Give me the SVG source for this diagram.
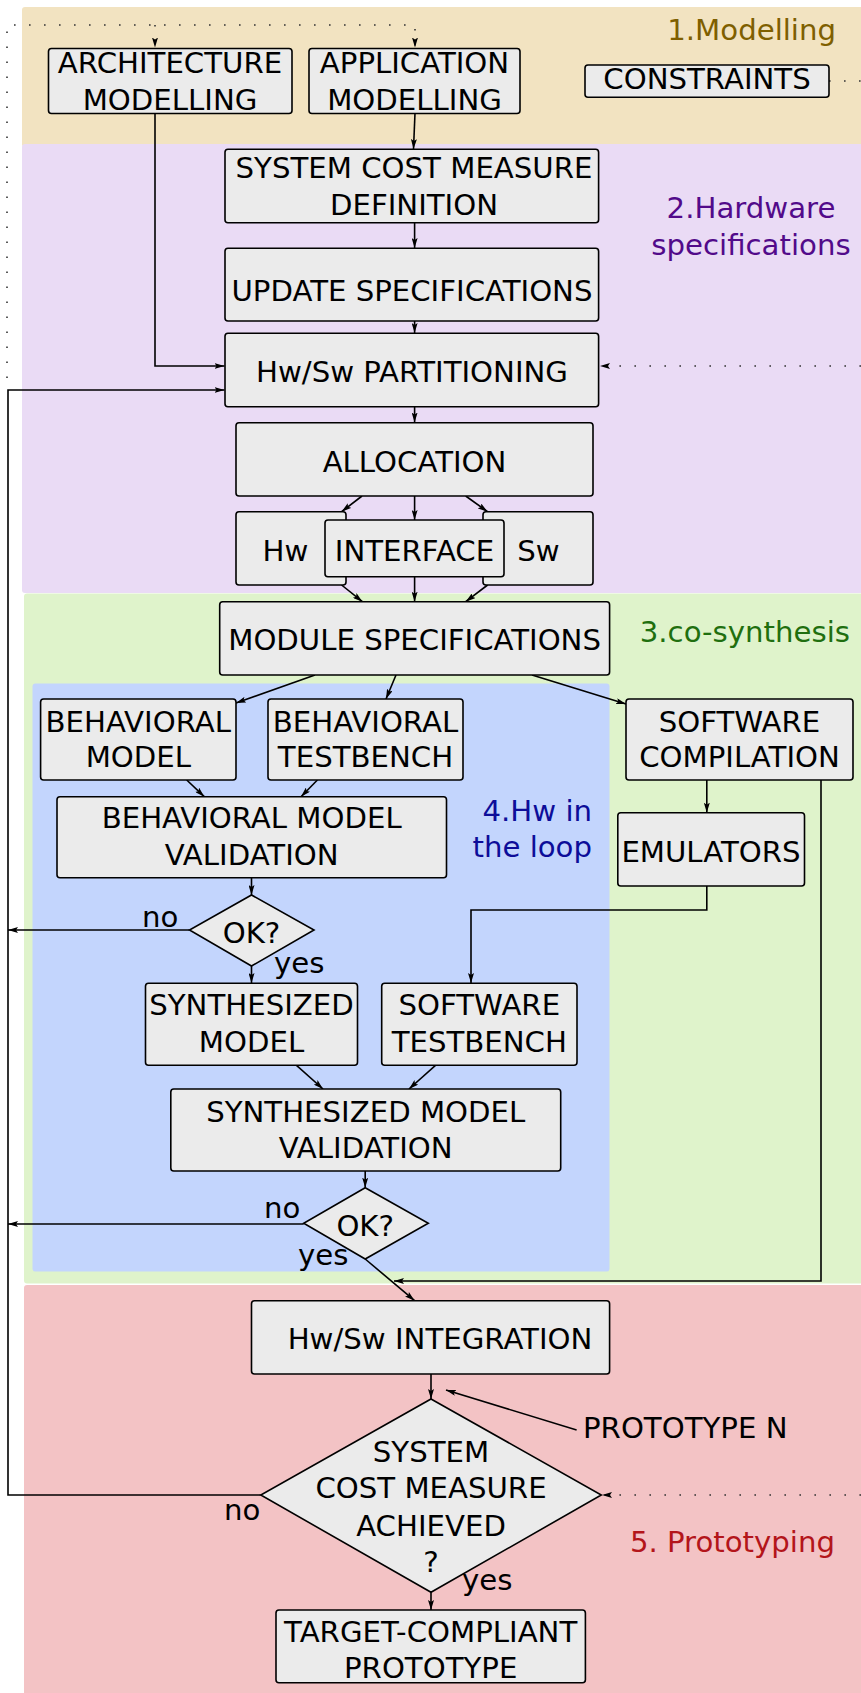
<svg xmlns="http://www.w3.org/2000/svg" width="861" height="1693" viewBox="0 0 861 1693">
<style>
text{font-family:"DejaVu Sans","Liberation Sans",sans-serif;font-size:29.2px;fill:#000}
.c{text-anchor:middle}
.box{fill:#ebebeb;stroke:#000;stroke-width:1.6}
.ln{fill:none;stroke:#000;stroke-width:1.6}
.ar{fill:none;stroke:#000;stroke-width:1.6;marker-end:url(#ah)}
.dt{fill:none;stroke:#333;stroke-width:1.6;stroke-dasharray:1.6 13.4}
.dta{fill:none;stroke:#333;stroke-width:1.6;stroke-dasharray:1.6 13.4;marker-end:url(#ah)}
</style>
<defs>
<marker id="ah" viewBox="0 0 10 6" refX="10" refY="3" markerWidth="10" markerHeight="6" orient="auto" markerUnits="userSpaceOnUse">
<path d="M0,0 L10,3 L0,6 L2,3 z" fill="#000"/>
</marker>
</defs>
<rect width="861" height="1693" fill="#fff"/>
<g id="bands">
<rect x="22" y="7" width="845" height="140" rx="3" fill="#f2e3c1"/>
<rect x="22" y="144" width="845" height="449" rx="3" fill="#eadbf5"/>
<rect x="24" y="593.5" width="843" height="690" rx="3" fill="#dff3cb"/>
<rect x="32.5" y="683.5" width="577" height="588" rx="3" fill="#c3d5fd"/>
<rect x="24" y="1285" width="843" height="420" rx="3" fill="#f3c3c5"/>
</g>
<g id="labels">
<text x="836" y="40" style="fill:#7f5f00;text-anchor:end">1.Modelling</text>
<text x="751" y="218" class="c" style="fill:#520a8a">2.Hardware</text>
<text x="751" y="255" class="c" style="fill:#520a8a">specifications</text>
<text x="850" y="641.7" style="fill:#1f6f0f;text-anchor:end">3.co-synthesis</text>
<text x="592" y="820.7" style="fill:#0d0d99;text-anchor:end">4.Hw in</text>
<text x="592" y="856.7" style="fill:#0d0d99;text-anchor:end">the loop</text>
<text x="835" y="1551.7" style="fill:#b3151a;text-anchor:end">5. Prototyping</text>
</g>
<g id="connectors">
<path class="dta" d="M7,378 V25 H415 V47.5"/>
<path class="dta" d="M155,25 V47.5"/>
<path class="dt" d="M829,81 H861"/>
<path class="dta" d="M861,366 H600"/>
<path class="dta" d="M861,1495 H602"/>
<path class="ar" d="M155,113 V366 H224.5"/>
<path class="ar" d="M415,113 L413.5,149"/>
<path class="ar" d="M414.6,223 V248"/>
<path class="ar" d="M414.6,321 V333"/>
<path class="ar" d="M414.6,407 V422.5"/>
<path class="ar" d="M362,496 L341.6,511.7"/>
<path class="ar" d="M414.6,496 V520"/>
<path class="ar" d="M465.7,496 L487.6,511.7"/>
<path class="ar" d="M341.6,585 L362.4,601.7"/>
<path class="ar" d="M414.6,577 V601.7"/>
<path class="ar" d="M487.6,585 L465.7,601.7"/>
<path class="ar" d="M315,675 L236,703"/>
<path class="ar" d="M396,675 L386,699"/>
<path class="ar" d="M532,675 L626,704"/>
<path class="ar" d="M186.7,780 L204.3,796.7"/>
<path class="ar" d="M317.4,780 L301,796.7"/>
<path class="ar" d="M706.8,780 V812.7"/>
<path class="ar" d="M251.5,878 V895"/>
<path class="ar" d="M189.5,930 H8"/>
<path class="ar" d="M251.5,966 V983"/>
<path class="ar" d="M706.8,886 V910 H471 V983"/>
<path class="ar" d="M296.5,1065.3 L323,1089"/>
<path class="ar" d="M435.5,1065.3 L409,1089"/>
<path class="ar" d="M365.2,1171 V1187.7"/>
<path class="ar" d="M303.7,1224 H8"/>
<path class="ar" d="M365.2,1259 L414.6,1300.7"/>
<path class="ar" d="M821,780 V1281 H394"/>
<path class="ar" d="M431,1374 V1399"/>
<path class="ar" d="M576.6,1430 L446,1390"/>
<path class="ar" d="M260.8,1495 H8 V390 H224.5"/>
<path class="ar" d="M431,1592.3 V1610"/>
</g>
<g id="n-arch"><rect class="box" x="48.5" y="48.5" width="243.5" height="65" rx="3"/><text class="c" x="170" y="72.7">ARCHITECTURE</text><text class="c" x="170" y="110">MODELLING</text></g>
<g id="n-app"><rect class="box" x="309" y="48.5" width="211" height="65" rx="3"/><text class="c" x="414.5" y="72.7">APPLICATION</text><text class="c" x="414.5" y="110">MODELLING</text></g>
<g id="n-constraints"><rect class="box" x="585" y="65" width="244" height="32.3" rx="3"/><text class="c" x="707" y="89">CONSTRAINTS</text></g>
<g id="n-scmd"><rect class="box" x="225" y="149.3" width="373.6" height="73.4" rx="3"/><text class="c" x="414" y="178.3">SYSTEM COST MEASURE</text><text class="c" x="414" y="215">DEFINITION</text></g>
<g id="n-update"><rect class="box" x="225" y="248.3" width="373.6" height="72.7" rx="3"/><text class="c" x="412" y="301">UPDATE SPECIFICATIONS</text></g>
<g id="n-partition"><rect class="box" x="225" y="333.3" width="373.6" height="73.4" rx="3"/><text class="c" x="412" y="382">Hw/Sw PARTITIONING</text></g>
<g id="n-allocation"><rect class="box" x="236" y="422.7" width="357" height="73.3" rx="3"/><text class="c" x="414.5" y="471.7">ALLOCATION</text></g>
<g id="n-hw"><rect class="box" x="236" y="511.7" width="110" height="73.3" rx="3"/><text class="c" x="285.5" y="560.7">Hw</text></g>
<g id="n-sw"><rect class="box" x="483" y="511.7" width="110" height="73.3" rx="3"/><text class="c" x="538.5" y="560.7">Sw</text></g>
<g id="n-interface"><rect class="box" x="325" y="520" width="179" height="56.7" rx="3"/><text class="c" x="414.5" y="560.7">INTERFACE</text></g>
<g id="n-module"><rect class="box" x="219.7" y="601.7" width="389.9" height="73.3" rx="3"/><text class="c" x="414.6" y="650">MODULE SPECIFICATIONS</text></g>
<g id="n-bm"><rect class="box" x="40.6" y="699" width="195.4" height="81" rx="3"/><text class="c" x="138.3" y="731.7">BEHAVIORAL</text><text class="c" x="138.3" y="767.3">MODEL</text></g>
<g id="n-bt"><rect class="box" x="268" y="699" width="195" height="81" rx="3"/><text class="c" x="365.5" y="731.7">BEHAVIORAL</text><text class="c" x="365.5" y="767.3">TESTBENCH</text></g>
<g id="n-sc"><rect class="box" x="626" y="699" width="227" height="81" rx="3"/><text class="c" x="739.5" y="731.7">SOFTWARE</text><text class="c" x="739.5" y="767.3">COMPILATION</text></g>
<g id="n-bmv"><rect class="box" x="57" y="796.7" width="389.5" height="81" rx="3"/><text class="c" x="251.7" y="828.3">BEHAVIORAL MODEL</text><text class="c" x="251.7" y="865">VALIDATION</text></g>
<g id="n-emu"><rect class="box" x="617.8" y="812.7" width="186.7" height="73.3" rx="3"/><text class="c" x="711" y="861.7">EMULATORS</text></g>
<g id="n-ok1"><polygon class="box" points="251.5,895 314,930 251.5,966 189.5,930"/><text class="c" x="251.5" y="943.3">OK?</text></g>
<text x="142" y="926.7">no</text>
<text x="274" y="973">yes</text>
<g id="n-sm"><rect class="box" x="145.5" y="983.3" width="212" height="82" rx="3"/><text class="c" x="251.5" y="1015">SYNTHESIZED</text><text class="c" x="251.5" y="1052.3">MODEL</text></g>
<g id="n-st"><rect class="box" x="381.7" y="983.3" width="195.3" height="82" rx="3"/><text class="c" x="479.3" y="1015">SOFTWARE</text><text class="c" x="479.3" y="1052.3">TESTBENCH</text></g>
<g id="n-smv"><rect class="box" x="170.8" y="1089" width="389.9" height="82" rx="3"/><text class="c" x="365.7" y="1121.7">SYNTHESIZED MODEL</text><text class="c" x="365.7" y="1158.3">VALIDATION</text></g>
<g id="n-ok2"><polygon class="box" points="365.2,1187.7 428.3,1223.3 365.2,1259 303.7,1223.3"/><text class="c" x="365.2" y="1236">OK?</text></g>
<text x="264" y="1218.3">no</text>
<text x="298" y="1265.3">yes</text>
<g id="n-integration"><rect class="box" x="251.5" y="1300.7" width="358.1" height="73.3" rx="3"/><text class="c" x="440" y="1349.3">Hw/Sw INTEGRATION</text></g>
<g id="n-cost"><polygon class="box" points="431,1399 601.3,1495 431,1592.3 260.8,1495"/><text class="c" x="431" y="1461.7">SYSTEM</text><text class="c" x="431" y="1498.3">COST MEASURE</text><text class="c" x="431" y="1536">ACHIEVED</text><text class="c" x="431" y="1571.7">?</text></g>
<text x="583" y="1438.3">PROTOTYPE N</text>
<text x="224" y="1520">no</text>
<text x="462" y="1590.3">yes</text>
<g id="n-target"><rect class="box" x="276" y="1610" width="309.4" height="72.7" rx="3"/><text class="c" x="430.7" y="1641.7">TARGET-COMPLIANT</text><text class="c" x="430.7" y="1678.3">PROTOTYPE</text></g>
</svg>
